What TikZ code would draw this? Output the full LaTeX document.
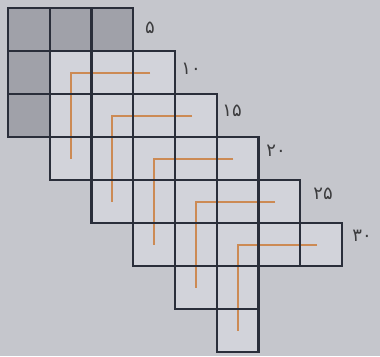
\documentclass[tikz,border=0pt]{standalone}
\usepackage{fontspec}
\newfontfamily\arabicfont[Script=Arabic]{DejaVu Sans}
\definecolor{bgc}{RGB}{197,198,204}
\definecolor{shadec}{RGB}{160,161,169}
\definecolor{cellc}{RGB}{210,211,218}
\definecolor{gridc}{RGB}{42,46,58}
\definecolor{orng}{RGB}{204,138,84}
\definecolor{labc}{RGB}{60,60,62}
\begin{document}
\begin{tikzpicture}[x=1pt,y=-1pt,
  gridline/.style={draw=gridc,line width=2.2pt,line join=miter},
  orangeline/.style={draw=orng,line width=2pt},
  numlabel/.style={text=labc,font=\arabicfont\fontsize{18}{18}\selectfont,inner sep=0pt}]
\fill[bgc] (0,0) rectangle (380,356);
\useasboundingbox (0,0) rectangle (380,356);
% cell fills
\foreach \k in {0,...,5}{
  \foreach \dx/\dy in {0/0,1/0,2/0,0/1,0/2}{
    \ifnum\k=0
      \fill[fill=shadec] ({8+(\k+\dx)*41.75},{8+(\k+\dy)*43}) rectangle ++(41.75,43);
    \else
      \fill[fill=cellc] ({8+(\k+\dx)*41.75},{8+(\k+\dy)*43}) rectangle ++(41.75,43);
    \fi
  }
}
% orange L marks
\foreach \k in {1,...,5}{
  \draw[orangeline] ({round(8+(\k+2.4)*41.75)},{round(8+(\k+0.5)*43)}) -- ({round(8+(\k+0.5)*41.75)},{round(8+(\k+0.5)*43)}) -- ({round(8+(\k+0.5)*41.75)},{round(8+(\k+2.5)*43)});
}
% cell borders
\foreach \k in {0,...,5}{
  \foreach \dx/\dy in {0/0,1/0,2/0,0/1,0/2}{
    \draw[gridline] ({8+(\k+\dx)*41.75},{8+(\k+\dy)*43}) rectangle ++(41.75,43);
  }
}
% labels
\node[numlabel] (l5)  at (150,28)  {۵};
\node[numlabel] (l10) at (191,69)  {۱۰};
\node[numlabel] (l15) at (232,111) {۱۵};
\node[numlabel] (l20) at (276,151) {۲۰};
\node[numlabel] (l25) at (323,194) {۲۵};
\node[numlabel] (l30) at (362,236) {۳۰};
\end{tikzpicture}
\end{document}
